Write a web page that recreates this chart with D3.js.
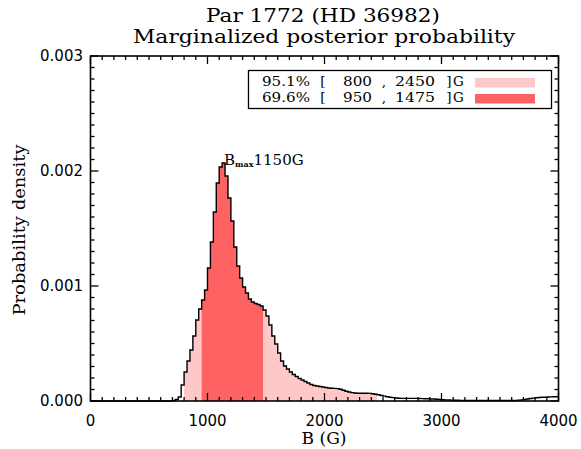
<!DOCTYPE html>
<html><head><meta charset="utf-8">
<script src="https://cdn.jsdelivr.net/npm/d3@7"></script>
<style>body{margin:0;background:#fff}svg{display:block}</style>
</head><body>
<script>
// ---- data ----
const titleLines = ["Par 1772 (HD 36982)", "Marginalized posterior probability"];
const xLabel = "B (G)";
const yLabel = "Probability density";
const binWidth = 25;               // G
const binEdges = d3.range(0, 4000, binWidth); // left edges of histogram bins
// probability density in units of 1e-4 per G, one value per bin
const densityE4 = [
 0,0,0,0,0,0,0,0,0,0, 0,0,0,0,0,0,0,0,0,0, 0,0,0,0,0,0,0,0,
 0.04,0.13,0.35,1.39,2.52,3.48,4.43,5.65,7.04,8.00,
 8.78,9.65,11.57,13.83,16.43,18.96,20.35,20.70,19.57,17.65,
 15.65,13.39,11.74,10.70,9.91,9.39,8.87,8.61,8.48,8.39,
 8.26,7.91,7.39,6.61,5.65,4.96,4.17,3.48,3.04,2.78,
 2.52,2.30,2.13,1.96,1.83,1.70,1.57,1.43,1.35,1.30,
 1.26,1.22,1.17,1.13,1.11,1.10,1.08,1.02,0.94,0.85,
 0.78,0.73,0.70,0.68,0.67,0.67,0.67,0.66,0.63,0.59,
 0.54,0.48,0.42,0.37,0.32,0.29,0.26,0.24,0.23,0.23,
 0.23,0.23,0.23,0.23,0.22,0.21,0.20,0.20,0.18,0.17,
 0.15,0.13,0.11,0.10,0.09,0.08,0.07,0.06,0.05,0.04,
 0.04,0.04,0.04,0.04,0.04,0.04,0.04,0.04,0.04,0.04,
 0.04,0.04,0.04,0.04,0.04,0.04,0.04,0.05,0.08,0.10,
 0.13,0.17,0.22,0.25,0.28,0.30,0.32,0.33,0.35,0.36,
 0.37,0.37
];
const credLevels = ["95.1%", "69.6%"];
const credLow = [800, 950];
const credHigh = [2450, 1475];
const credColors = ["#ffc8c8", "#ff6262"];
const bMax = 1150;
const xTicks = [0, 1000, 2000, 3000, 4000];
const yTicks = [0, 10, 20, 30];
const yTickLabels = ["0.000", "0.001", "0.002", "0.003"];

// ---- layout ----
const W = 581, H = 449;
const L = 90.5, R = 558.5, T = 56, B = 401;
const svg = d3.select("body").append("svg").attr("width", W).attr("height", H);
const x = d3.scaleLinear().domain([0, 4000]).range([L, R]);
const y = d3.scaleLinear().domain([0, 30]).range([B, T]);

const pts = binEdges.map((e, i) => [e, densityE4[i]]);
pts.push([4000, densityE4[densityE4.length - 1]]);

// shaded credible regions (wide first, then narrow)
credLow.forEach((lo, k) => {
  const hi = credHigh[k];
  const sub = pts.filter(p => p[0] >= lo && p[0] < hi);
  sub.push([hi, sub[sub.length - 1][1]]);
  const area = d3.area().curve(d3.curveStepAfter)
    .x(p => x(p[0])).y0(y(0)).y1(p => y(p[1]));
  svg.append("path").attr("d", area(sub)).attr("fill", credColors[k]);
});

// histogram outline
const line = d3.line().curve(d3.curveStepAfter).x(p => x(p[0])).y(p => y(p[1]));
svg.append("path").attr("d", line(pts)).attr("fill", "none")
  .attr("stroke", "#000").attr("stroke-width", 1.4);

// axes: frame + ticks (IDL style, mirrored)
const ax = svg.append("g").attr("stroke", "#000").attr("stroke-width", 1.3);
d3.range(0, 4001, 100).forEach(v => {
  const len = v % 1000 === 0 ? 8 : 4;
  ax.append("line").attr("x1", x(v)).attr("x2", x(v)).attr("y1", B).attr("y2", B - len);
  ax.append("line").attr("x1", x(v)).attr("x2", x(v)).attr("y1", T).attr("y2", T + len);
});
d3.range(0, 31, 1).forEach(v => {
  const len = v % 10 === 0 ? 8 : 4;
  ax.append("line").attr("y1", y(v)).attr("y2", y(v)).attr("x1", L).attr("x2", L + len);
  ax.append("line").attr("y1", y(v)).attr("y2", y(v)).attr("x1", R).attr("x2", R - len);
});
svg.append("rect").attr("x", L).attr("y", T).attr("width", R - L).attr("height", B - T)
  .attr("fill", "none").attr("stroke", "#000").attr("stroke-width", 1.6);

const sans = "DejaVu Sans, Liberation Sans, sans-serif";
const serif = "DejaVu Serif, Liberation Serif, serif";
svg.append("g").selectAll("text").data(xTicks).join("text")
  .attr("x", d => x(d)).attr("y", 426).attr("text-anchor", "middle")
  .attr("font-family", sans).attr("font-size", 15).text(d => d);
svg.append("g").selectAll("text").data(yTicks).join("text")
  .attr("x", 83).attr("y", d => y(d) + 5).attr("text-anchor", "end")
  .attr("font-family", sans).attr("font-size", 15).text((d, i) => yTickLabels[i]);

// titles
svg.append("text").attr("x", 323).attr("y", 22).attr("text-anchor", "middle")
  .attr("font-family", serif).attr("font-size", 18.5)
  .attr("textLength", 234).attr("lengthAdjust", "spacingAndGlyphs").text(titleLines[0]);
svg.append("text").attr("x", 324).attr("y", 43).attr("text-anchor", "middle")
  .attr("font-family", serif).attr("font-size", 18.5)
  .attr("textLength", 382).attr("lengthAdjust", "spacingAndGlyphs").text(titleLines[1]);
svg.append("text").attr("x", 324).attr("y", 444).attr("text-anchor", "middle")
  .attr("font-family", serif).attr("font-size", 16)
  .attr("textLength", 45).attr("lengthAdjust", "spacingAndGlyphs").text(xLabel);
svg.append("text").attr("transform", "translate(25,230) rotate(-90)").attr("text-anchor", "middle")
  .attr("font-family", serif).attr("font-size", 16)
  .attr("textLength", 171).attr("lengthAdjust", "spacingAndGlyphs").text(yLabel);

// Bmax annotation
const ann = svg.append("text").attr("x", x(bMax) - 1).attr("y", 165)
  .attr("font-family", serif).attr("font-size", 15);
ann.append("tspan").text("B");
ann.append("tspan").attr("font-size", 8).attr("font-weight", "bold").attr("dy", 2).text("max");
ann.append("tspan").attr("dy", -2).text(bMax + "G");

// legend
svg.append("rect").attr("x", 248.5).attr("y", 70.5).attr("width", 303).attr("height", 38)
  .attr("fill", "#fff").attr("stroke", "#000").attr("stroke-width", 1.3);
credLevels.forEach((lab, k) => {
  const by = 86 + k * 16;
  const g = svg.append("g").attr("font-family", serif).attr("font-size", 13.5);
  g.append("text").attr("x", 262).attr("y", by).attr("textLength", 48)
    .attr("lengthAdjust", "spacingAndGlyphs").text(lab);
  g.append("text").attr("x", 323).attr("y", by).attr("text-anchor", "middle").text("[");
  g.append("text").attr("x", 343).attr("y", by).attr("textLength", 29)
    .attr("lengthAdjust", "spacingAndGlyphs").text(credLow[k]);
  g.append("text").attr("x", 384).attr("y", by).attr("text-anchor", "middle").text(",");
  g.append("text").attr("x", 395).attr("y", by).attr("textLength", 40)
    .attr("lengthAdjust", "spacingAndGlyphs").text(credHigh[k]);
  g.append("text").attr("x", 449).attr("y", by).attr("text-anchor", "middle").text("]");
  g.append("text").attr("x", 453).attr("y", by).text("G");
  svg.append("rect").attr("x", 475).attr("y", by - 8).attr("width", 60).attr("height", 9.5)
    .attr("fill", credColors[k]);
});
</script>
</body></html>
